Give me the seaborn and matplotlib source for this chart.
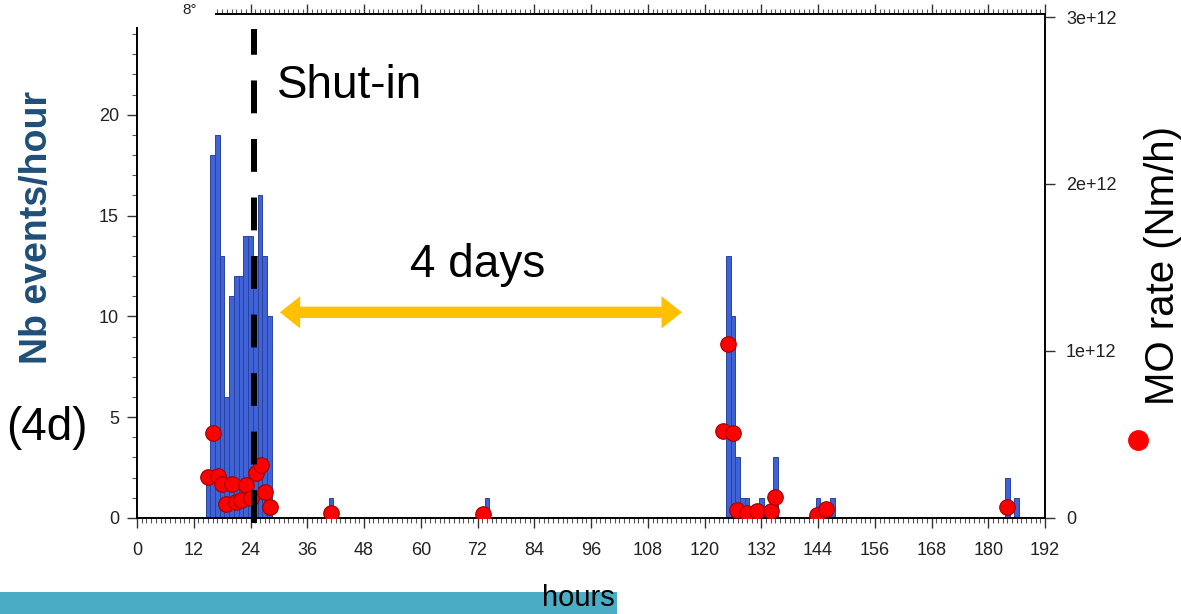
import numpy as np
import pandas as pd
import matplotlib
matplotlib.use("Agg")
import matplotlib.pyplot as plt
from matplotlib.patches import Rectangle
from matplotlib.ticker import MultipleLocator, FixedLocator, FixedFormatter
import seaborn as sns

# ---------------- data ----------------
bar_hours = [15, 16, 17, 18, 19, 20, 21, 22, 23, 24, 25, 26, 27, 28,
             41, 74,
             125, 126, 127, 128, 129, 132, 135,
             144, 147, 184, 186]
bar_counts = [2, 18, 19, 13, 6, 11, 12, 12, 14, 14, 13, 16, 13, 10,
              1, 1,
              13, 10, 3, 1, 1, 1, 3,
              1, 1, 2, 1]

dot_hours = [15.1, 16.1, 17.1, 18.0, 18.9, 20.0, 20.9, 22.0, 23.0, 24.0,
             25.2, 26.2, 27.1, 28.1, 41.0, 73.1,
             124.0, 124.9, 126.0, 126.8, 128.9, 131.0, 134.0, 134.9,
             143.7, 145.7, 183.9]
dot_mo = [0.244e12, 0.511e12, 0.251e12, 0.204e12, 0.082e12, 0.204e12, 0.098e12,
          0.108e12, 0.196e12, 0.122e12, 0.271e12, 0.315e12, 0.154e12, 0.064e12,
          0.028e12, 0.022e12,
          0.523e12, 1.040e12, 0.507e12, 0.048e12, 0.032e12, 0.044e12, 0.044e12,
          0.124e12, 0.015e12, 0.054e12, 0.068e12]

x_ticks = [0, 12, 24, 36, 48, 60, 72, 84, 96, 108, 120, 132, 144, 156, 168, 180, 192]
left_ticks = [0, 5, 10, 15, 20]
right_ticks = [0, 1e12, 2e12, 3e12]
right_tick_labels = ["0", "1e+12", "2e+12", "3e+12"]

shut_in_hour = 24.7
arrow_start, arrow_end, arrow_level = 30.2, 115.2, 10.2

bars_df = pd.DataFrame({"hour": bar_hours, "count": bar_counts})
dots_df = pd.DataFrame({"hour": dot_hours, "mo": dot_mo})

# ---------------- style ----------------
sns.set_theme(style="white")
plt.rcParams["font.family"] = ["Liberation Sans", "DejaVu Sans"]

fig = plt.figure(figsize=(11.81, 6.14), dpi=100)
ax = fig.add_axes([0.116, 0.1564, 0.7689, 0.8208])

sns.histplot(data=bars_df, x="hour", weights="count", discrete=True,
             color="#3f62d6", edgecolor="#2a43a0", linewidth=0.7, alpha=1.0,
             ax=ax, zorder=2)

ax.set_xlim(0, 192)
ax.set_ylim(0, 25)
ax.set_xlabel("")
ax.set_ylabel("")
ax.xaxis.set_major_locator(FixedLocator(x_ticks))
ax.xaxis.set_minor_locator(MultipleLocator(1))
ax.yaxis.set_major_locator(FixedLocator(left_ticks))
ax.yaxis.set_minor_locator(MultipleLocator(1))
ax.tick_params(axis="both", which="major", direction="out", length=7, width=1,
               color="#333333", labelcolor="#222222", labelsize=13)
ax.tick_params(axis="both", which="minor", direction="out", length=3.5, width=0.8,
               color="#555555")
ax.tick_params(axis="x", which="both", top=True, bottom=True, labeltop=False)
ax.tick_params(axis="x", which="major", pad=10)
ax.tick_params(axis="y", which="both", left=True, right=True, labelright=False)
ax.tick_params(axis="y", which="major", pad=6)
for s in ax.spines.values():
    s.set_color("black")
    s.set_linewidth(1.4)

# orange double arrow (two overlapping arrows, no seam)
head_len = 4.3
ax.arrow(arrow_start + head_len, arrow_level, arrow_end - arrow_start - head_len, 0,
         width=0.55, head_width=1.6, head_length=head_len,
         length_includes_head=True, color="#ffc000", linewidth=0, zorder=4)
ax.arrow(arrow_end - head_len, arrow_level, arrow_start - arrow_end + head_len, 0,
         width=0.55, head_width=1.6, head_length=head_len,
         length_includes_head=True, color="#ffc000", linewidth=0, zorder=4)

# right axis
ax2 = ax.twinx()
sns.scatterplot(data=dots_df, x="hour", y="mo", ax=ax2, color="#ff0000",
                edgecolor="#a00000", linewidth=0.8, s=125, zorder=5, legend=False)
ax2.set_ylim(0, 3.018e12)
ax2.set_xlim(0, 192)
ax2.set_ylabel("")
ax2.set_xlabel("")
ax2.yaxis.set_major_locator(FixedLocator(right_ticks))
ax2.yaxis.set_major_formatter(FixedFormatter(right_tick_labels))
ax2.tick_params(axis="y", which="major", direction="out", length=7, width=1,
                color="#333333", labelcolor="#222222", labelsize=13, pad=8)
for s in ax2.spines.values():
    s.set_visible(False)

ax2.axvline(shut_in_hour, color="black", linewidth=4.3, dashes=(5.5, 4.3),
            ymin=-0.01, ymax=0.97, zorder=8, clip_on=False)

# texts
fig.text(277 / 1181, 1 - 98 / 614, "Shut-in", fontsize=33, ha="left",
         va="baseline", color="black")
fig.text(478 / 1181, 1 - 277 / 614, "4 days", fontsize=33, ha="center",
         va="baseline", color="black")
fig.text(0.0313, 0.629, "Nb events/hour", rotation=90, fontsize=27,
         fontweight="bold", color="#1f4e79", ha="center", va="center")
fig.text(0.040, 0.303, "(4d)", fontsize=33, ha="center", va="center",
         color="black")
fig.text(0.9848, 0.567, "MO rate (Nm/h)", rotation=90, fontsize=29,
         ha="center", va="center", color="black")
fig.lines.append(plt.Line2D([1138 / 1181], [1 - 440 / 614], marker="o",
                            markersize=14, color="#ff0000", linestyle="none",
                            transform=fig.transFigure))

# top-left cover and small label
fig.patches.append(Rectangle((0, 1 - 27 / 614), 215 / 1181, 27 / 614,
                             transform=fig.transFigure, facecolor="white",
                             edgecolor="none", zorder=10))
fig.text(190 / 1181, 1 - 10 / 614, "8°", fontsize=11, ha="center", va="center",
         color="#222222", zorder=11)

# bottom teal band and x label
fig.patches.append(Rectangle((0, 0), 617 / 1181, 22 / 614,
                             transform=fig.transFigure, facecolor="#4bacc6",
                             edgecolor="none", zorder=1))
fig.text(578 / 1181, 1 - 598 / 614, "hours", fontsize=21, ha="center",
         va="center", color="black", zorder=5)

fig.savefig("out.png", dpi=100)
